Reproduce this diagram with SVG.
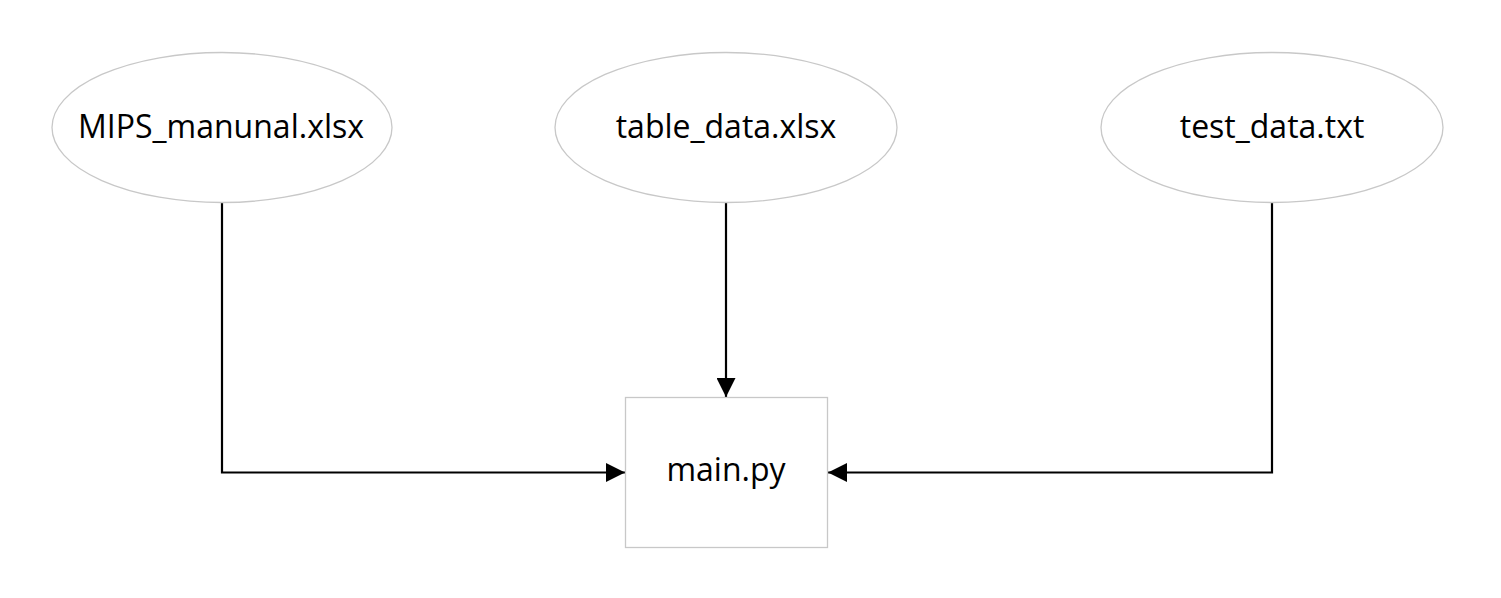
<svg xmlns="http://www.w3.org/2000/svg" width="1501" height="598" viewBox="0 0 1501 598">
<style>
.node{fill:#fff;stroke:#c8c8c8;stroke-width:1.3}
.lbl{font-family:"Open Sans","Noto Sans",sans-serif;font-size:32px;fill:#000;text-anchor:middle}
.edge{fill:none;stroke:#000;stroke-width:2.2}
</style>
<defs>
<marker id="ah" markerWidth="19" markerHeight="19" viewBox="0 0 19 19" refX="19" refY="9.5" orient="auto" markerUnits="userSpaceOnUse">
<path d="M0,0 L19,9.5 L0,19 Z" fill="#000"/>
</marker>
</defs>
<rect width="1501" height="598" fill="#fff"/>
<g id="edges">
<path class="edge" d="M222,203 V472.5 H625" marker-end="url(#ah)"/>
<path class="edge" d="M726,203 V397" marker-end="url(#ah)"/>
<path class="edge" d="M1272,203 V472.5 H828" marker-end="url(#ah)"/>
</g>
<g id="n-mips">
<ellipse class="node" cx="222" cy="127.5" rx="170" ry="75"/>
<text class="lbl" x="221" y="137.5">MIPS_manunal.xlsx</text>
</g>
<g id="n-table">
<ellipse class="node" cx="726" cy="127.5" rx="171" ry="75"/>
<text class="lbl" x="726" y="137.5">table_data.xlsx</text>
</g>
<g id="n-test">
<ellipse class="node" cx="1272" cy="127.5" rx="171" ry="75"/>
<text class="lbl" x="1272" y="137.5">test_data.txt</text>
</g>
<g id="n-main">
<rect class="node" x="625.5" y="397.5" width="202" height="150"/>
<text class="lbl" x="726" y="481">main.py</text>
</g>
</svg>
